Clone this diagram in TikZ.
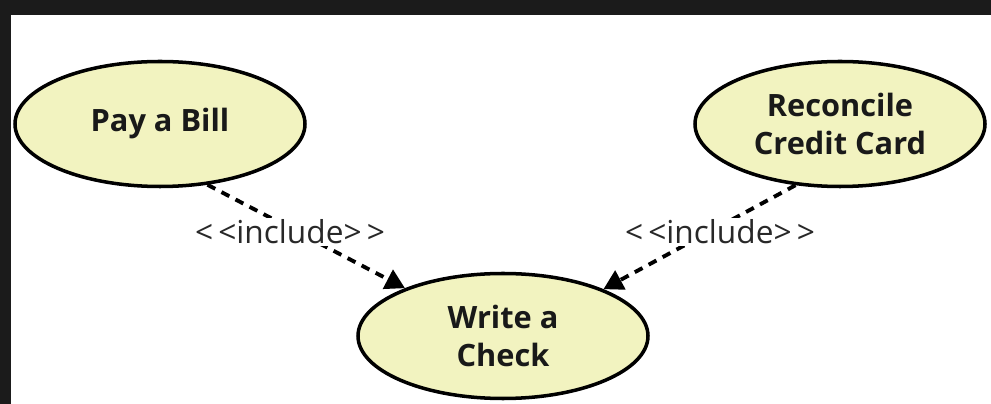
\documentclass[tikz,border=0pt]{standalone}
\usepackage{fontspec}
\setmainfont{Open Sans}
\usepackage{tikz}
\usetikzlibrary{shapes.geometric, arrows.meta, positioning}
\definecolor{caseyellow}{RGB}{242, 243, 192}
\definecolor{framedark}{RGB}{27, 27, 27}
\definecolor{labelgray}{RGB}{40, 40, 40}

\tikzset{
  usecase/.style={draw=black, ellipse, fill=caseyellow, line width=2pt,
    minimum width=5.8cm, minimum height=2.5cm, align=center,
    font=\fontsize{17.5}{21.5}\selectfont\bfseries, text=black!90},
  includeline/.style={line width=2.2pt, dash pattern=on 5pt off 4pt,
    -{Triangle[length=11pt, width=12pt]}},
  includelabel/.style={font=\fontsize{18}{21}\selectfont, text=labelgray}
}

\begin{document}
\begin{tikzpicture}
\useasboundingbox (0,0) rectangle (19.82,8.08);
% dark frame
\fill[framedark] (0,7.78) rectangle (19.82,8.08);
\fill[framedark] (0,0) rectangle (0.22,8.08);

% use cases
\node[usecase] (bill) at (3.2, 5.6) {Pay a Bill};
\node[usecase] (card) at (16.8, 5.6) {Reconcile\\Credit Card};
\node[usecase] (check) at (10.06, 1.36) {Write a\\Check};

% include relations
\draw[includeline] (bill.-52) -- (check.154);
\draw[includeline] (card.234) -- (check.25);

\node[includelabel, fill=white, inner sep=1pt] (lblA) at (5.8, 3.44) {<\,<include>\,>};
\node[includelabel, fill=white, inner sep=1pt] (lblB) at (14.4, 3.44) {<\,<include>\,>};

\end{tikzpicture}
\end{document}
